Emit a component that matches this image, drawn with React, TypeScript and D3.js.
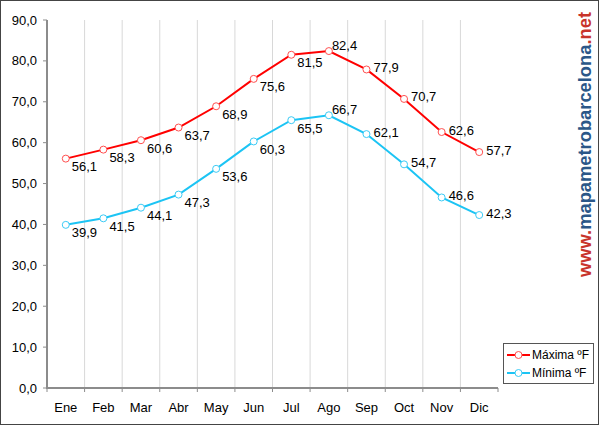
import React from "react";
import * as d3 from "d3";

const months = ["Ene", "Feb", "Mar", "Abr", "May", "Jun", "Jul", "Ago", "Sep", "Oct", "Nov", "Dic"];
const maxTemps = [56.1, 58.3, 60.6, 63.7, 68.9, 75.6, 81.5, 82.4, 77.9, 70.7, 62.6, 57.7];
const minTemps = [39.9, 41.5, 44.1, 47.3, 53.6, 60.3, 65.5, 66.7, 62.1, 54.7, 46.6, 42.3];
const yTicks = [0, 10, 20, 30, 40, 50, 60, 70, 80, 90];
const seriesNames = ["Máxima ºF", "Mínima ºF"];

const W = 600;
const H = 426;
const FONT = "'Liberation Sans', Arial, sans-serif";

const fmt = (v: number) => v.toFixed(1).replace(".", ",");

export default function App() {
  const left = 47, right = 498, top = 20, bottom = 388;
  const x = d3.scaleBand<string>().domain(months).range([left, right]).padding(0);
  const y = d3.scaleLinear().domain([0, 90]).range([bottom, top]);
  const cx = (m: string) => (x(m) as number) + x.bandwidth() / 2;

  const series = [
    { name: seriesNames[0], values: maxTemps, color: "#ff0000", marker: "#ff5050" },
    { name: seriesNames[1], values: minTemps, color: "#1cc4f4", marker: "#3ccbf5" },
  ];

  const line = d3
    .line<number>()
    .x((_, i) => cx(months[i]))
    .y((d) => y(d));

  const labelOffset = (vals: number[], i: number) => {
    const peak = vals.indexOf(Math.max(...vals));
    if (i < peak) return { dx: 6, dy: 8 };
    if (i === peak) return { dx: 3, dy: -6 };
    return { dx: 7, dy: -2 };
  };

  const boundaries = d3.range(0, months.length + 1).map((i) => left + i * x.bandwidth());

  return (
    <svg width={W} height={H} style={{ position: "absolute", left: 0, top: 0, background: "#fff" }}>
      <rect x={0.5} y={0.5} width={598} height={424} fill="#fff" stroke="#444" strokeWidth={1} />
      {/* vertical gridlines */}
      {boundaries.slice(1, months.length).map((bx, i) => (
        <line key={"g" + i} x1={bx} x2={bx} y1={top} y2={bottom} stroke="#d8d8d8" strokeWidth={1} />
      ))}
      {/* y axis */}
      <line x1={left} x2={left} y1={top} y2={bottom + 1} stroke="#8c8c8c" strokeWidth={2} />
      {yTicks.map((t) => (
        <g key={"yt" + t}>
          <line x1={left - 4} x2={left} y1={y(t)} y2={y(t)} stroke="#8c8c8c" strokeWidth={1} />
          <text x={37} y={y(t)} dy="0.35em" textAnchor="end" fontFamily={FONT} fontSize={13} fill="#000">
            {fmt(t)}
          </text>
        </g>
      ))}
      {/* x axis */}
      <line x1={left} x2={right} y1={bottom} y2={bottom} stroke="#8c8c8c" strokeWidth={2} />
      {boundaries.map((bx, i) => (
        <line key={"xt" + i} x1={bx} x2={bx} y1={bottom} y2={bottom + 4} stroke="#8c8c8c" strokeWidth={1} />
      ))}
      {months.map((m) => (
        <text key={"xl" + m} x={cx(m)} y={411.5} textAnchor="middle" fontFamily={FONT} fontSize={13} fill="#000">
          {m}
        </text>
      ))}
      {/* series */}
      {series.map((s) => (
        <g key={s.name}>
          <path d={line(s.values) || ""} fill="none" stroke={s.color} strokeWidth={2} />
          {s.values.map((v, i) => (
            <circle key={i} cx={cx(months[i])} cy={y(v)} r={3.5} fill="#fff" stroke={s.marker} strokeWidth={1} />
          ))}
          {s.values.map((v, i) => {
            const o = labelOffset(s.values, i);
            return (
              <text
                key={"l" + i}
                x={cx(months[i]) + o.dx}
                y={y(v) + o.dy}
                dy="0.35em"
                fontFamily={FONT}
                fontSize={13}
                fill="#000"
              >
                {fmt(v)}
              </text>
            );
          })}
        </g>
      ))}
      {/* legend */}
      <rect x={503.5} y={343.5} width={90} height={40} fill="#fff" stroke="#555" strokeWidth={1} />
      {series.map((s, i) => {
        const ly = 355 + i * 18;
        return (
          <g key={"lg" + i}>
            <line x1={507} x2={530} y1={ly} y2={ly} stroke={s.color} strokeWidth={2} />
            <circle cx={518.5} cy={ly} r={3.5} fill="#fff" stroke={s.marker} strokeWidth={1} />
            <text x={532} y={ly} dy="0.35em" fontFamily={FONT} fontSize={12} fill="#000">
              {s.name}
            </text>
          </g>
        );
      })}
      {/* watermark */}
      <text
        transform="translate(591,277) rotate(-90)"
        fontFamily={FONT}
        fontWeight="bold"
        fontSize={19}
        textLength={265}
        lengthAdjust="spacingAndGlyphs"
      >
        <tspan fill="#c8342a">www.</tspan>
        <tspan fill="#2b5788">mapametrobarcelona</tspan>
        <tspan fill="#c8342a">.net</tspan>
      </text>
    </svg>
  );
}
